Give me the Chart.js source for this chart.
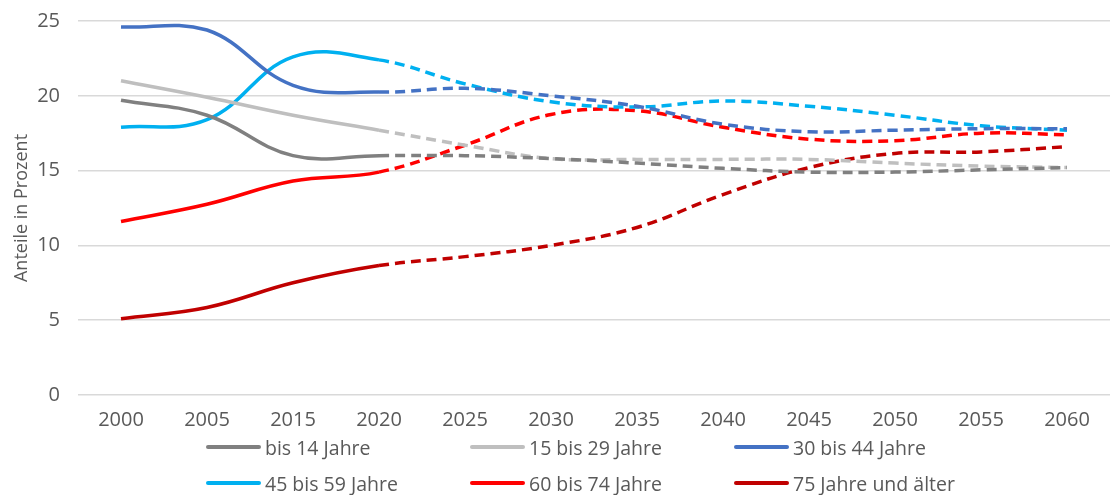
<!DOCTYPE html>
<html lang="de">
<head>
<meta charset="utf-8">
<script src="https://cdn.jsdelivr.net/npm/chart.js@4/dist/chart.umd.min.js"></script>
<style>
  html, body { margin: 0; padding: 0; background: #fff; }
  #wrap { position: relative; width: 1110px; height: 495px; overflow: hidden; }
  #chartBox { position: absolute; left: 0; top: 0; width: 1110px; height: 431px; }
  #legend { position: absolute; left: 0; top: 430px; width: 1110px; height: 65px; font-family: "Open Sans", sans-serif; font-size: 19.5px; color: #595959; }
  .item { position: absolute; display: flex; align-items: center; height: 24px; white-space: nowrap; }
  .item .swatch { width: 55px; height: 4px; border-radius: 2px; margin-right: 4px; }
</style>
</head>
<body>
<div id="wrap">
  <div id="chartBox"><canvas id="chart"></canvas></div>
  <div id="legend"></div>
</div>
<script>
const years = ['2000', '2005', '2015', '2020', '2025', '2030', '2035', '2040', '2045', '2050', '2055', '2060'];
const yTicks = [0, 5, 10, 15, 20, 25];

// Anteile in Prozent je Altersgruppe (bis 2020 Ist-Werte, danach Prognose)
const bis14 = [19.7, 18.7, 16.0, 16.0, 16.0, 15.8, 15.5, 15.15, 14.9, 14.9, 15.05, 15.2];
const age15to29 = [21.0, 19.9, 18.7, 17.7, 16.7, 15.8, 15.75, 15.75, 15.75, 15.5, 15.3, 15.2];
const age30to44 = [24.6, 24.4, 20.7, 20.25, 20.5, 20.0, 19.3, 18.1, 17.6, 17.7, 17.8, 17.8];
const age45to59 = [17.9, 18.4, 22.6, 22.4, 20.8, 19.6, 19.25, 19.65, 19.3, 18.7, 18.0, 17.7];
const age60to74 = [11.6, 12.75, 14.3, 14.9, 16.7, 18.75, 19.0, 17.9, 17.1, 17.0, 17.5, 17.4];
const age75plus = [5.1, 5.85, 7.5, 8.65, 9.25, 10.0, 11.2, 13.4, 15.2, 16.15, 16.25, 16.6];

const seriesNames = ['bis 14 Jahre', '15 bis 29 Jahre', '30 bis 44 Jahre', '45 bis 59 Jahre', '60 bis 74 Jahre', '75 Jahre und älter'];
const seriesColors = ['#808080', '#bfbfbf', '#4472c4', '#00b0f0', '#ff0000', '#c00000'];
const seriesData = [bis14, age15to29, age30to44, age45to59, age60to74, age75plus];

const lastActual = 3; // 2020: ab hier gestrichelt
const textColor = '#595959';
const fontFamily = '"Open Sans", sans-serif';

const datasets = seriesData.map((data, i) => ({
  label: seriesNames[i],
  data,
  borderColor: seriesColors[i],
  backgroundColor: seriesColors[i],
  borderWidth: 3.5,
  pointRadius: 0,
  tension: 0.4,
  fill: false,
  segment: {
    borderDash: ctx => ctx.p0DataIndex >= lastActual ? [10, 6] : undefined
  }
}));

new Chart(document.getElementById('chart'), {
  type: 'line',
  data: { labels: years, datasets },
  options: {
    responsive: true,
    maintainAspectRatio: false,
    animation: false,
    layout: { padding: { top: 21, left: 0, right: 0, bottom: 0 } },
    plugins: {
      legend: { display: false },
      tooltip: { enabled: false }
    },
    scales: {
      x: {
        offset: true,
        grid: { display: false },
        border: { display: false },
        ticks: { color: textColor, font: { family: fontFamily, size: 20 }, padding: 5, maxRotation: 0, autoSkip: false },
        afterFit: scale => { scale.height = 36; }
      },
      y: {
        min: 0,
        max: 25,
        afterBuildTicks: scale => { scale.ticks = yTicks.map(v => ({ value: v })); },
        grid: { color: '#d9d9d9', lineWidth: 1.5, drawTicks: false },
        border: { display: false },
        ticks: { color: textColor, font: { family: fontFamily, size: 20 }, padding: 18 },
        title: {
          display: true,
          text: 'Anteile in Prozent',
          color: textColor,
          font: { family: fontFamily, size: 18 },
          padding: { top: 11, bottom: 0 }
        },
        afterFit: scale => {
          scale.width = 78;
          scale.paddingTop = 0;
          scale.paddingBottom = 0;
        }
      }
    }
  }
});

// Legende: 3 Spalten, 2 Zeilen
const legend = document.getElementById('legend');
seriesNames.forEach((name, i) => {
  const item = document.createElement('div');
  item.className = 'item';
  item.style.left = (206 + (i % 3) * 264) + 'px';
  item.style.top = (5 + Math.floor(i / 3) * 36) + 'px';
  item.innerHTML = '<span class="swatch" style="background:' + seriesColors[i] + '"></span><span>' + name + '</span>';
  legend.appendChild(item);
});
</script>
</body>
</html>
